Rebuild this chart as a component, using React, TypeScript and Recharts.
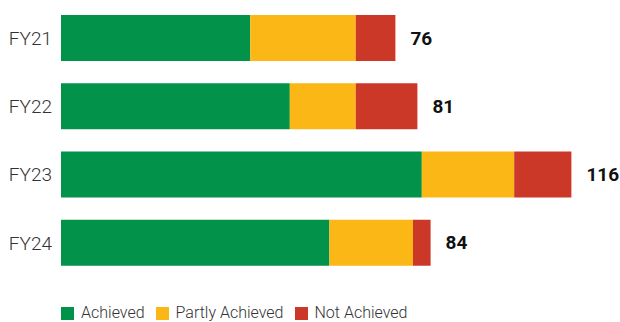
import React from 'react';
import { BarChart, Bar, XAxis, YAxis, LabelList, Legend } from 'recharts';

const categories = ['FY21', 'FY22', 'FY23', 'FY24'];
const achieved = [43, 52, 82, 61];
const partlyAchieved = [24, 15, 21, 19];
const notAchieved = [9, 14, 13, 4];
const totals = [76, 81, 116, 84];

const seriesNames = ['Achieved', 'Partly Achieved', 'Not Achieved'];
const colors = ['#03924A', '#FBB716', '#CC3827'];

const data = categories.map((c, i) => ({
  name: c,
  achieved: achieved[i],
  partly: partlyAchieved[i],
  not: notAchieved[i],
  total: totals[i],
}));

const FONT = 'Roboto, "DejaVu Sans", sans-serif';

const LegendContent = () => (
  <div style={{ display: 'flex', alignItems: 'center', fontFamily: FONT, fontSize: 16, fontWeight: 300, color: '#333', lineHeight: '18px' }}>
    {seriesNames.map((n, i) => (
      <div key={n} style={{ display: 'flex', alignItems: 'center', marginRight: 11 }}>
        <span style={{ display: 'inline-block', width: 13, height: 13, background: colors[i], marginRight: 7 }} />
        <span>{n}</span>
      </div>
    ))}
  </div>
);

export default function App() {
  return (
    <div style={{ position: 'absolute', left: 0, top: 0, width: 620, height: 322, background: '#fff' }}>
      <BarChart
        width={620}
        height={322}
        data={data}
        layout="vertical"
        margin={{ top: 4, right: 31, bottom: 27, left: 0 }}
        barSize={46}
      >
        <XAxis type="number" hide domain={[0, 120]} />
        <YAxis
          type="category"
          dataKey="name"
          width={61}
          axisLine={false}
          tickLine={false}
          tickMargin={3}
          tick={{ fontFamily: FONT, fontSize: 19, fontWeight: 300, fill: '#333' }}
        />
        <Legend
          verticalAlign="bottom"
          align="left"
          content={<LegendContent />}
          wrapperStyle={{ left: 61, bottom: 0 }}
        />
        <Bar dataKey="achieved" name={seriesNames[0]} stackId="a" fill={colors[0]} isAnimationActive={false} />
        <Bar dataKey="partly" name={seriesNames[1]} stackId="a" fill={colors[1]} isAnimationActive={false} />
        <Bar dataKey="not" name={seriesNames[2]} stackId="a" fill={colors[2]} isAnimationActive={false}>
          <LabelList
            dataKey="total"
            position="right"
            offset={15}
            style={{ fontFamily: FONT, fontSize: 19, fontWeight: 700, fill: '#111' }}
          />
        </Bar>
      </BarChart>
    </div>
  );
}
